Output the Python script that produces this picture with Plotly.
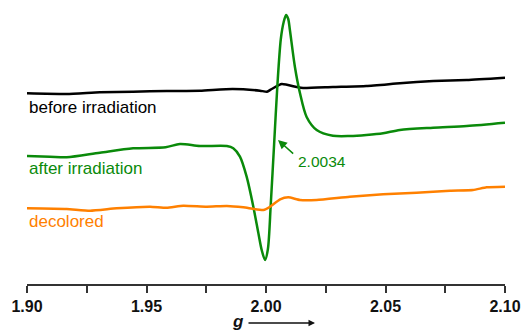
import plotly.graph_objects as go

# EPR spectra (intensity in arbitrary units, offset per trace)
g_before = [1.900, 1.9166, 1.9305, 1.9444, 1.9584, 1.9724, 1.986, 1.9975, 2.0004, 2.0024,
            2.0066, 2.0128, 2.0155, 2.028, 2.042, 2.056, 2.070, 2.084, 2.100]
i_before = [190.7, 190.0, 191.7, 192.3, 193.0, 193.3, 195.0, 193.3, 192.3, 195.0,
            200.0, 197.0, 196.0, 197.0, 198.0, 200.7, 203.0, 204.0, 206.3]

g_after = [1.900, 1.9096, 1.9166, 1.9305, 1.9444, 1.958, 1.964, 1.9724, 1.9836, 1.9863,
           1.9891, 1.9919, 1.9947, 1.9968, 1.9982, 1.9996, 2.0008, 2.0020, 2.0034, 2.0048,
           2.0062, 2.0074, 2.0084, 2.0093, 2.0100, 2.0121, 2.0142, 2.0170, 2.0212, 2.028,
           2.0351, 2.042, 2.049, 2.056, 2.0699, 2.084, 2.100]
i_after = [128.0, 127.3, 126.7, 131.3, 135.7, 136.7, 140.0, 138.0, 138.0, 135.7,
           127.3, 107.3, 77.3, 51.0, 34.0, 24.0, 35.0, 80.0, 140.0, 200.0,
           245.0, 262.0, 269.0, 265.0, 254.0, 217.0, 191.0, 167.0, 154.0, 148.3,
           148.0, 149.0, 150.7, 154.0, 156.3, 158.0, 161.3]

g_decol = [1.900, 1.9166, 1.9264, 1.9375, 1.9515, 1.9584, 1.9654, 1.9752, 1.9836, 1.9905,
           1.9989, 2.0017, 2.0059, 2.0093, 2.0142, 2.0212, 2.035, 2.049, 2.063, 2.077,
           2.0866, 2.0923, 2.100]
i_decol = [75.7, 75.0, 73.3, 75.7, 77.3, 76.3, 78.3, 77.3, 78.0, 76.7,
           74.0, 77.3, 84.7, 86.7, 84.0, 84.0, 87.3, 89.7, 91.3, 93.3,
           94.0, 96.7, 97.3]

x_ticks = [1.90, 1.95, 2.00, 2.05, 2.10]
x_ticklabels = ["1.90", "1.95", "2.00", "2.05", "2.10"]

GREEN = "#0a8a0a"
ORANGE = "#ff8000"
FONT = "Liberation Sans, Arial, sans-serif"

fig = go.Figure()
fig.add_trace(go.Scatter(x=g_before, y=i_before, mode="lines",
                         line=dict(color="#000000", width=2.5, shape="spline", smoothing=0.5)))
fig.add_trace(go.Scatter(x=g_after, y=i_after, mode="lines",
                         line=dict(color=GREEN, width=2.5, shape="spline", smoothing=0.8)))
fig.add_trace(go.Scatter(x=g_decol, y=i_decol, mode="lines",
                         line=dict(color=ORANGE, width=2.5, shape="spline", smoothing=0.5)))

# trace labels
fig.add_annotation(x=1.9, y=177, text="before irradiation", showarrow=False,
                   xanchor="left", yanchor="middle", font=dict(size=17, color="#000000", family=FONT))
fig.add_annotation(x=1.9, y=116, text="after irradiation", showarrow=False,
                   xanchor="left", yanchor="middle", font=dict(size=17, color=GREEN, family=FONT))
fig.add_annotation(x=1.9, y=63, text="decolored", showarrow=False,
                   xanchor="left", yanchor="middle", font=dict(size=17, color=ORANGE, family=FONT))

# g-value marker
fig.add_annotation(x=2.0050, y=144, ax=2.0120, ay=129, axref="x", ayref="y",
                   text="", showarrow=True, arrowhead=2, arrowsize=1.2, arrowwidth=1.5,
                   arrowcolor=GREEN)
fig.add_annotation(x=2.0124, y=123, text="2.0034", showarrow=False, xanchor="left",
                   yanchor="middle", font=dict(size=15.5, color=GREEN, family=FONT))

# axis title with arrow (below the axis, paper y coordinates)
fig.add_annotation(x=1.9883, y=-37 / 284, xref="x", yref="paper", text="<b><i>g</i></b>",
                   showarrow=False, xanchor="center", yanchor="middle",
                   font=dict(size=17, color="#111111", family=FONT))
fig.add_annotation(x=2.0205, y=-39 / 284, xref="x", yref="paper", ax=-68, ay=0,
                   text="", showarrow=True, arrowhead=2, arrowsize=1, arrowwidth=1.3,
                   arrowcolor="#111111")

fig.update_layout(
    width=526, height=331,
    margin=dict(l=27, r=21, t=0, b=47, autoexpand=False),
    paper_bgcolor="white", plot_bgcolor="white",
    showlegend=False,
    xaxis=dict(range=[1.9, 2.1], tickvals=x_ticks, ticktext=x_ticklabels, automargin=False,
               showgrid=False, zeroline=False, showline=True, linecolor="#333333",
               linewidth=1.5, ticks="outside", ticklen=7, tickwidth=1.5, tickcolor="#333333",
               tickfont=dict(size=16, color="#111111", family=FONT, weight="bold"),
               minor=dict(dtick=0.025, tick0=1.9, ticks="outside", ticklen=7, tickwidth=1.5,
                          tickcolor="#333333", showgrid=False)),
    yaxis=dict(range=[0, 284], visible=False, showgrid=False, zeroline=False, automargin=False),
)

fig.write_html(
    "out.html",
    config={"displayModeBar": False},
    post_script="document.body.style.margin='0';document.body.style.overflow='hidden';"
                "document.documentElement.style.overflow='hidden';",
)
